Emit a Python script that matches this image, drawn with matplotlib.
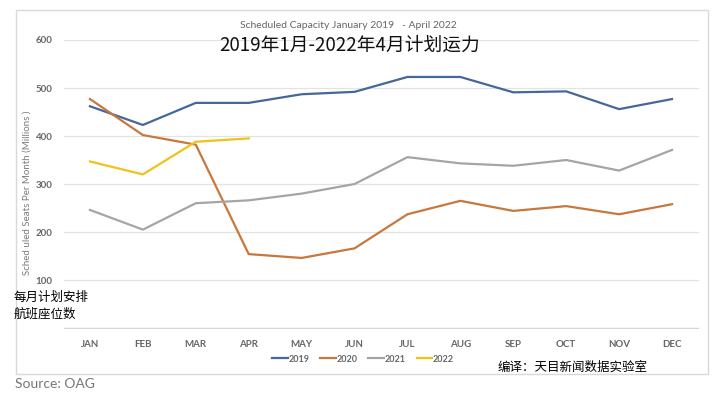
import matplotlib.pyplot as plt
from matplotlib.patches import Rectangle

months = ['JAN', 'FEB', 'MAR', 'APR', 'MAY', 'JUN',
          'JUL', 'AUG', 'SEP', 'OCT', 'NOV', 'DEC']
cap_2019 = [462, 423, 469, 469, 487, 492, 523, 523, 491, 493, 456, 477]
cap_2020 = [477, 402, 382, 154, 146, 166, 237, 265, 244, 254, 237, 258]
cap_2021 = [246, 205, 260, 266, 280, 300, 356, 343, 338, 350, 328, 371]
cap_2022 = [347, 320, 388, 395]
series_names = ['2019', '2020', '2021', '2022']
y_ticks = [100, 200, 300, 400, 500, 600]

colors = ['#45679b', '#c8773d', '#a5a5a5', '#f0c21a']
cjk = ['Noto Sans CJK SC', 'DejaVu Sans']
latin = ['Lato', 'DejaVu Sans']

fig = plt.figure(figsize=(7.2, 3.98), dpi=100)
fig.patch.set_facecolor('white')

# outer chart frame
fig.patches.append(Rectangle((16 / 720, 1 - 374 / 398), 692 / 720, 364 / 398,
                             transform=fig.transFigure, fill=False,
                             edgecolor='#d9d9d9', linewidth=1))

ax = fig.add_axes([63.5 / 720, 1 - 329 / 398, 635 / 720, 289 / 398])
x = list(range(len(months)))
for name, vals, c in zip(series_names, [cap_2019, cap_2020, cap_2021, cap_2022], colors):
    ax.plot(x[:len(vals)], vals, color=c, linewidth=1.6, label=name, zorder=3)

ax.set_xlim(-0.5, 11.5)
ax.set_ylim(-2, 600)
ax.set_yticks(y_ticks)
ax.set_xticks(x)
ax.set_xticklabels(months)
ax.yaxis.grid(True, color='#e3e3e3', linewidth=0.9, zorder=0)
ax.axhline(0, color='#d6d6d6', linewidth=1.0, zorder=1)
ax.tick_params(length=0, labelsize=7, labelcolor='#666666', pad=8)
for lab in ax.get_xticklabels() + ax.get_yticklabels():
    lab.set_family(latin)
    lab.set_fontweight('bold')
for s in ax.spines.values():
    s.set_visible(False)

ax.set_ylabel('Sched uled Seats Per Month (Millions )', fontsize=7,
              color='#7a7a7a', family=latin)
ax.yaxis.set_label_coords(-0.05, 0.47)

fig.text(348 / 720, 1 - 26 / 398, 'Scheduled Capacity January 2019   - April 2022',
         ha='center', va='center', fontsize=7.5, color='#666666', family=latin)
fig.text(350 / 720, 1 - 45 / 398, '2019年1月-2022年4月计划运力',
         ha='center', va='center', fontsize=13.5, color='#111111', family=cjk,
         fontweight='medium')

fig.text(14 / 720, 1 - 297 / 398, '每月计划安排', ha='left', va='center',
         fontsize=9, color='black', family=cjk, fontweight='medium')
fig.text(14 / 720, 1 - 314 / 398, '航班座位数', ha='left', va='center',
         fontsize=9, color='black', family=cjk, fontweight='medium')

fig.text(498 / 720, 1 - 367 / 398, '编译：天目新闻数据实验室', ha='left', va='center',
         fontsize=9, color='black', family=cjk, fontweight='medium')
fig.text(15 / 720, 1 - 384 / 398, 'Source: OAG', ha='left', va='center',
         fontsize=10, color='#777777', family=latin)

leg = fig.legend(loc='center', bbox_to_anchor=(363 / 720, 1 - 359 / 398), ncol=4,
                 frameon=False, handlelength=1.7, handletextpad=0.1, columnspacing=1.2,
                 prop={'family': latin, 'size': 6.5, 'weight': 'bold'})
for t in leg.get_texts():
    t.set_color('#666666')

fig.savefig('out.png', dpi=100)
